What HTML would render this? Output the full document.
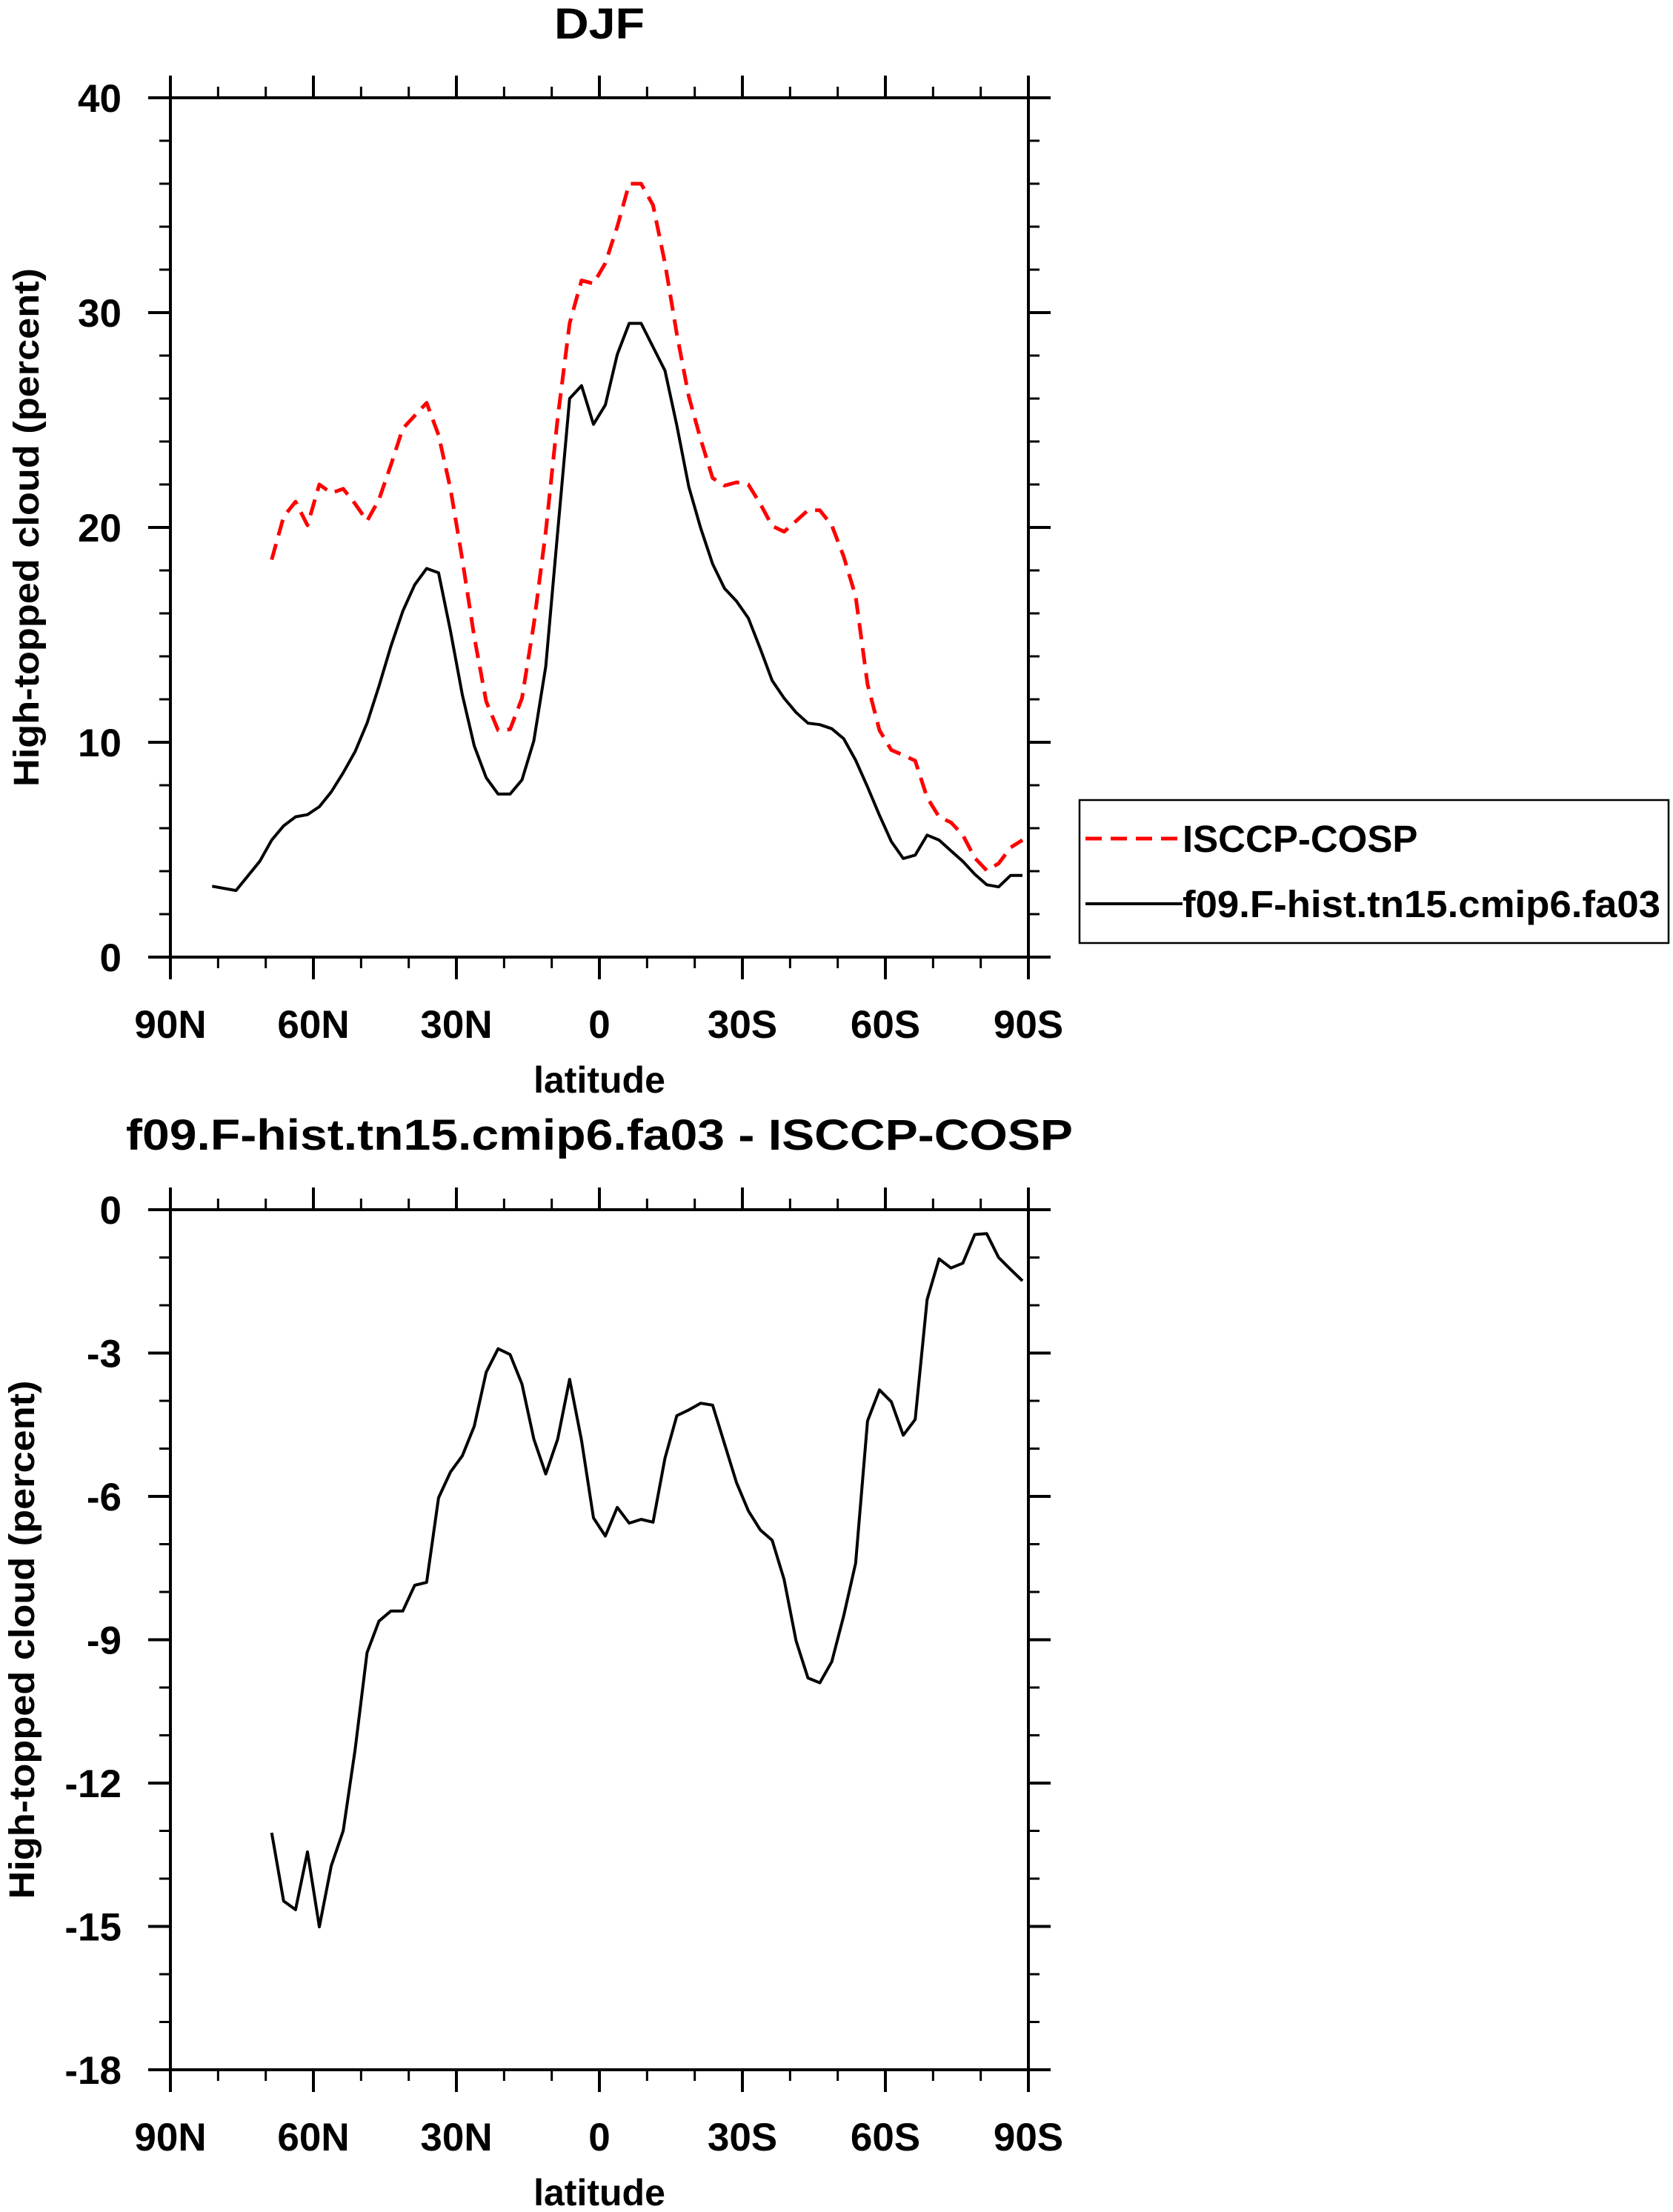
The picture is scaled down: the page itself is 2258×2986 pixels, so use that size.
<!DOCTYPE html>
<html><head><meta charset="utf-8"><style>
html,body{margin:0;padding:0;background:#fff;}
svg{display:block;font-family:"Liberation Sans",Arial,sans-serif;font-weight:bold;}
</style></head><body>
<svg id="chart" width="2258" height="2986" viewBox="0 0 2258 2986" xmlns="http://www.w3.org/2000/svg">
<rect width="2258" height="2986" fill="#fff"/>
<g id="top"></g>
<g id="bottom"></g>
<g id="legend">
<rect x="1457" y="1080" width="795" height="193" fill="none" stroke="#000" stroke-width="2.5"/>
<line x1="1465" y1="1132" x2="1596" y2="1132" stroke="#f00" stroke-width="5" stroke-dasharray="22 12"/>
<text x="1596" y="1150" font-size="51">ISCCP-COSP</text>
<line x1="1465" y1="1220" x2="1596" y2="1220" stroke="#000" stroke-width="4"/>
<text x="1596" y="1238" font-size="51" textLength="645" lengthAdjust="spacingAndGlyphs">f09.F-hist.tn15.cmip6.fa03</text>
</g>
</svg>
<script>
const latObs = [68.75,66.25,63.75,61.25,58.75,56.25,53.75,51.25,48.75,46.25,43.75,41.25,38.75,36.25,33.75,31.25,28.75,26.25,23.75,21.25,18.75,16.25,13.75,11.25,8.75,6.25,3.75,1.25,-1.25,-3.75,-6.25,-8.75,-11.25,-13.75,-16.25,-18.75,-21.25,-23.75,-26.25,-28.75,-31.25,-33.75,-36.25,-38.75,-41.25,-43.75,-46.25,-48.75,-51.25,-53.75,-56.25,-58.75,-61.25,-63.75,-66.25,-68.75,-71.25,-73.75,-76.25,-78.75,-81.25,-83.75,-86.25,-88.75];
const obsVals = [18.5,20.5,21.2,20.1,22.0,21.6,21.8,21.1,20.3,21.3,22.9,24.6,25.2,25.8,24.3,21.8,18.5,14.9,11.9,10.56,10.6,12.05,15.5,19.8,25.1,29.5,31.5,31.35,32.3,34.0,36.0,36.0,35.0,32.3,29.0,26.1,24.1,22.3,21.95,22.1,22.0,21.1,20.07,19.8,20.3,20.8,20.8,20.1,18.65,16.8,12.7,10.56,9.64,9.4,9.14,7.43,6.53,6.27,5.68,4.62,4.03,4.36,5.1,5.45];
const latModel = [81.25,76.25,71.25,68.75,66.25,63.75,61.25,58.75,56.25,53.75,51.25,48.75,46.25,43.75,41.25,38.75,36.25,33.75,31.25,28.75,26.25,23.75,21.25,18.75,16.25,13.75,11.25,8.75,6.25,3.75,1.25,-1.25,-3.75,-6.25,-8.75,-11.25,-13.75,-16.25,-18.75,-21.25,-23.75,-26.25,-28.75,-31.25,-33.75,-36.25,-38.75,-41.25,-43.75,-46.25,-48.75,-51.25,-53.75,-56.25,-58.75,-61.25,-63.75,-66.25,-68.75,-71.25,-73.75,-76.25,-78.75,-81.25,-83.75,-86.25,-88.75];
const modelVals = [3.3,3.1,4.46,5.45,6.11,6.53,6.63,7.0,7.69,8.58,9.57,10.89,12.61,14.46,16.1,17.33,18.09,17.89,15.18,12.21,9.83,8.35,7.59,7.59,8.25,10.07,13.53,19.8,26.0,26.6,24.8,25.7,28.05,29.5,29.5,28.4,27.3,24.75,21.9,19.97,18.3,17.16,16.57,15.78,14.36,12.87,12.05,11.39,10.89,10.82,10.63,10.17,9.17,7.92,6.6,5.38,4.59,4.75,5.68,5.45,4.95,4.46,3.86,3.37,3.27,3.8,3.8];
const diffVals = [-13.04,-14.47,-14.65,-13.44,-15.01,-13.73,-13.0,-11.3,-9.27,-8.61,-8.4,-8.4,-7.86,-7.8,-6.03,-5.49,-5.15,-4.53,-3.4,-2.91,-3.03,-3.65,-4.8,-5.53,-4.8,-3.55,-4.83,-6.45,-6.83,-6.23,-6.56,-6.48,-6.54,-5.2,-4.31,-4.19,-4.05,-4.09,-4.9,-5.71,-6.3,-6.7,-6.92,-7.74,-9.02,-9.8,-9.9,-9.46,-8.5,-7.4,-4.42,-3.77,-4.02,-4.72,-4.39,-1.88,-1.03,-1.22,-1.12,-0.52,-0.5,-1.0,-1.25,-1.49];
const xTickVals = [90,60,30,0,-30,-60,-90];
const xTickLabels = ["90N","60N","30N","0","30S","60S","90S"];
const topYTicks = [0,10,20,30,40];
const botYTicks = [-18,-15,-12,-9,-6,-3,0];

const NS="http://www.w3.org/2000/svg";
function mk(parent,tag,attrs,text){const e=document.createElementNS(NS,tag);for(const k in attrs)e.setAttribute(k,attrs[k]);if(text!==undefined)e.textContent=text;parent.appendChild(e);return e;}
const X0=230,X1=1388;
function xs(lat){return X0+(90-lat)/180*(X1-X0);}

function panel(g,Y0,Y1,ymin,ymax,majors,minorStep,title,titleY,titleLen,ytitleX){
  const ys=v=>Y1-(v-ymin)/(ymax-ymin)*(Y1-Y0);
  const fr=mk(g,'rect',{x:X0,y:Y0,width:X1-X0,height:Y1-Y0,fill:'none',stroke:'#000','stroke-width':4});
  
  
  for(let lat=90;lat>=-90;lat-=10){
    const major=lat%30===0;const L=major?30:15;const x=xs(lat);
    const t1=mk(g,'line',{x1:x,y1:Y1,x2:x,y2:Y1+L,stroke:'#000','stroke-width':major?4:3});
    
    
    const t2=mk(g,'line',{x1:x,y1:Y0,x2:x,y2:Y0-L,stroke:'#000','stroke-width':major?4:3});
    
    
  }
  xTickVals.forEach((v,i)=>{
    const t=mk(g,'text',{x:xs(v),y:Y1+109,'font-size':53,'text-anchor':'middle'},xTickLabels[i]);
    
    
  });
  for(let v=ymin;v<=ymax+1e-9;v+=minorStep){
    const major=majors.some(m=>Math.abs(m-v)<1e-9);const L=major?30:15;const y=ys(v);
    const a=mk(g,'line',{x1:X0,y1:y,x2:X0-L,y2:y,stroke:'#000','stroke-width':major?4:3});
    
    
    const b=mk(g,'line',{x1:X1,y1:y,x2:X1+L,y2:y,stroke:'#000','stroke-width':major?4:3});
    
    
  }
  majors.forEach(v=>{
    const t=mk(g,'text',{x:164,y:ys(v)+19,'font-size':53,'text-anchor':'end'},String(v));
    
    
  });
  const tt=mk(g,'text',{x:809,y:titleY,'font-size':58,'text-anchor':'middle',textLength:titleLen,lengthAdjust:'spacingAndGlyphs'},title);
  
  
  const xl=mk(g,'text',{x:809,y:Y1+183,'font-size':50,'text-anchor':'middle'},'latitude');
  
  
  const cy=(Y0+Y1)/2;
  const yl=mk(g,'text',{x:0,y:0,'font-size':48,'text-anchor':'middle',textLength:700,lengthAdjust:'spacingAndGlyphs',transform:`translate(${ytitleX},${cy}) rotate(-90)`},'High-topped cloud (percent)');
  
  
  return ys;
}
function series(g,lats,vals,ys,color,dash,name){
  const d=lats.map((l,i)=>(i?'L':'M')+xs(l).toFixed(1)+','+ys(vals[i]).toFixed(1)).join(' ');
  const p=mk(g,'path',{d:d,fill:'none',stroke:color,'stroke-width':dash?5:4,'stroke-linejoin':'round'});
  if(dash)p.setAttribute('stroke-dasharray','22 12');
  
  
}
const gt=document.getElementById('top');
const ysT=panel(gt,132,1292,0,40,topYTicks,2,'DJF',52,122,52);
series(gt,latObs,obsVals,ysT,'#f00',true,'isccp-line');
series(gt,latModel,modelVals,ysT,'#000',false,'model-line');
const gb=document.getElementById('bottom');
const ysB=panel(gb,1633,2794,-18,0,botYTicks,1,'f09.F-hist.tn15.cmip6.fa03 - ISCCP-COSP',1552,1278,46);
series(gb,latObs,diffVals,ysB,'#000',false,'difference-line');
</script>
</body></html>
